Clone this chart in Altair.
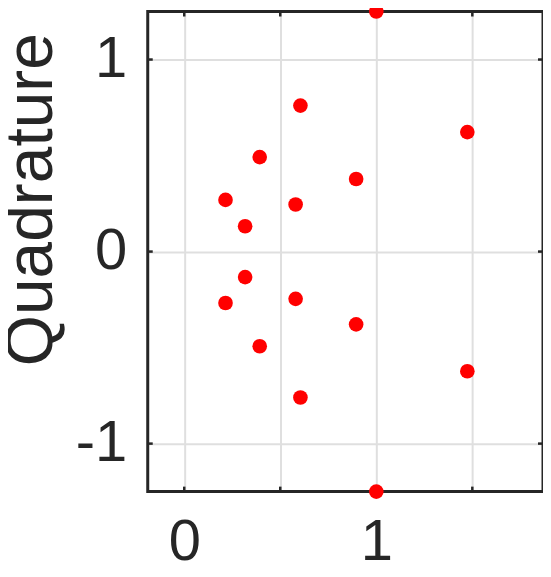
import altair as alt
import pandas as pd

# In-phase / quadrature constellation points
in_phase = [1.0, 0.605, 1.474, 0.393, 0.895, 0.215, 0.580, 0.317,
            0.317, 0.215, 0.580, 0.895, 0.393, 1.474, 0.605, 1.0]
quadrature = [1.25, 0.760, 0.622, 0.492, 0.378, 0.269, 0.245, 0.132,
              -0.133, -0.268, -0.246, -0.379, -0.493, -0.623, -0.760, -1.25]

x_grid = [0, 0.5, 1, 1.5]
y_grid = [-1, 0, 1]

W, H = 396, 481
FONT = "Liberation Sans"
INK = "#262626"

df = pd.DataFrame({"I": in_phase, "Q": quadrature})
xs = alt.Scale(domain=[-0.19, 1.868], nice=False, zero=False)
ys = alt.Scale(domain=[-1.25, 1.25], nice=False, zero=False)

x_label_expr = "(datum.value == 0 || datum.value == 1) ? format(datum.value, 'd') : ''"
y_label_expr = "datum.value < 0 ? '-' + format(abs(datum.value), 'd') : format(datum.value, 'd')"

base = alt.Chart(df)

points = base.mark_circle(size=215, color="#ff0000", opacity=1, clip=False).encode(
    x=alt.X("I:Q", scale=xs,
            axis=alt.Axis(values=x_grid, labelExpr=x_label_expr, title=None,
                          grid=True, gridColor="#dfdfdf", gridWidth=2,
                          ticks=False, domain=False, labelFontSize=58,
                          labelFont=FONT, labelColor=INK, labelPadding=22)),
    y=alt.Y("Q:Q", scale=ys,
            axis=alt.Axis(values=y_grid, title="Quadrature", labelExpr=y_label_expr,
                          grid=True, gridColor="#dfdfdf", gridWidth=2,
                          ticks=False, domain=False, labelFontSize=58,
                          labelFont=FONT, labelColor=INK, labelPadding=21,
                          titleFontSize=66, titleFont=FONT, titleColor=INK,
                          titleFontWeight="normal", titleAngle=270,
                          titleAlign="center", titleBaseline="alphabetic",
                          titleX=-96, titleY=188)),
)

frame_df = pd.DataFrame({"k": [0]})
frame = alt.Chart(frame_df).mark_rect(
    fill="white", fillOpacity=0, stroke=INK, strokeWidth=3
).encode(x=alt.value(0), x2=alt.value(W), y=alt.value(0), y2=alt.value(H))

xt = pd.DataFrame({"v": x_grid})
yt = pd.DataFrame({"v": y_grid})
tick_style = dict(color=INK, strokeWidth=2.5)
xt_bot = alt.Chart(xt).mark_rule(**tick_style).encode(
    x=alt.X("v:Q", scale=xs), y=alt.value(H), y2=alt.value(H - 5))
xt_top = alt.Chart(xt).mark_rule(**tick_style).encode(
    x=alt.X("v:Q", scale=xs), y=alt.value(0), y2=alt.value(5))
yt_left = alt.Chart(yt).mark_rule(**tick_style).encode(
    y=alt.Y("v:Q", scale=ys), x=alt.value(0), x2=alt.value(5))
yt_right = alt.Chart(yt).mark_rule(**tick_style).encode(
    y=alt.Y("v:Q", scale=ys), x=alt.value(W), x2=alt.value(W - 5))

chart = alt.layer(frame, xt_bot, xt_top, yt_left, yt_right, points).properties(
    width=W, height=H,
    autosize=alt.AutoSizeParams(type="none"),
    padding={"left": 140, "top": 3, "right": 0, "bottom": 76},
    background="white",
).configure_view(
    strokeWidth=0
)

chart.save("out.html", embed_options={"renderer": "svg", "actions": False})
